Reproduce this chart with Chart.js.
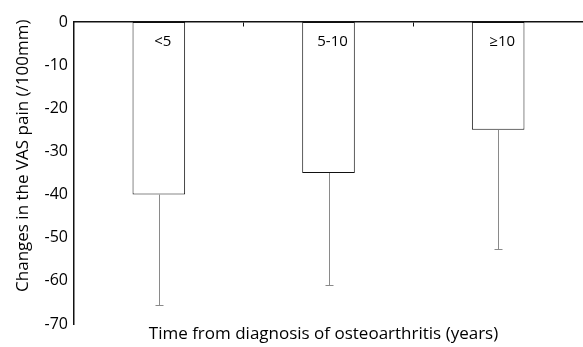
<!DOCTYPE html>
<html>
<head>
<meta charset="utf-8">
<script src="https://cdn.jsdelivr.net/npm/chart.js@4.4.1/dist/chart.umd.min.js"></script>
<style>
  html, body { margin: 0; padding: 0; background: #fff; }
  #wrap { width: 583px; height: 347px; }
</style>
</head>
<body>
<div id="wrap"><canvas id="vasChart"></canvas></div>
<script>
(function () {
    'use strict';

    var categories = ['<5', '5-10', '\u226510'];
    var meanChange = [-40, -35, -25];
    var errorLow = [-65.5, -61, -52.5];
    var yTicks = [0, -10, -20, -30, -40, -50, -60, -70];

    var xTitle = 'Time from diagnosis of osteoarthritis (years)';
    var yTitle = 'Changes in the VAS pain (/100mm)';

    var FONT = '"Open Sans", sans-serif';

    // error whiskers (downward only), labels inside the bars, axis titles
    var barExtras = {
        id: 'barExtras',
        afterDatasetsDraw: function (chart) {
            var ctx = chart.ctx;
            var y = chart.scales.y;
            var area = chart.chartArea;
            var meta = chart.getDatasetMeta(0);
            ctx.save();
            meta.data.forEach(function (bar, i) {
                var x = Math.round(bar.x) + 0.5;
                var yTop = y.getPixelForValue(meanChange[i]);
                var yEnd = Math.round(y.getPixelForValue(errorLow[i])) + 0.5;
                ctx.strokeStyle = '#8a8a8a';
                ctx.lineWidth = 1;
                ctx.beginPath();
                ctx.moveTo(x, yTop);
                ctx.lineTo(x, yEnd);
                ctx.moveTo(x - 4, yEnd);
                ctx.lineTo(x + 4, yEnd);
                ctx.stroke();

                ctx.fillStyle = '#000';
                ctx.font = '15px ' + FONT;
                ctx.textAlign = 'center';
                ctx.textBaseline = 'middle';
                ctx.fillText(categories[i], bar.x + 4, y.getPixelForValue(0) + 20);
            });

            ctx.fillStyle = '#000';
            ctx.font = '17px ' + FONT;
            ctx.textAlign = 'center';
            ctx.textBaseline = 'middle';
            ctx.fillText(xTitle, (area.left + area.right) / 2 - 5, area.bottom + 10);

            ctx.translate(23, y.getPixelForValue(-31));
            ctx.rotate(-Math.PI / 2);
            ctx.fillText(yTitle, 0, 0);
            ctx.restore();
        }
    };

    new Chart(document.getElementById('vasChart'), {
        type: 'bar',
        data: {
            labels: categories,
            datasets: [{
                data: meanChange,
                backgroundColor: '#ffffff',
                borderColor: '#111111',
                borderWidth: 1,
                borderSkipped: false,
                barPercentage: 0.31,
                categoryPercentage: 1
            }]
        },
        options: {
            responsive: true,
            maintainAspectRatio: false,
            animation: false,
            layout: { padding: { top: 22, right: 0, left: 0, bottom: 23 } },
            plugins: {
                legend: { display: false },
                tooltip: { enabled: false }
            },
            scales: {
                x: {
                    position: { y: 0 },
                    ticks: { display: false },
                    grid: {
                        display: true,
                        offset: true,
                        drawOnChartArea: false,
                        drawTicks: true,
                        tickLength: 4,
                        color: '#111'
                    },
                    border: { display: true, color: '#111', width: 1.5 }
                },
                y: {
                    min: -70,
                    max: 0,
                    afterBuildTicks: function (axis) {
                        axis.ticks = yTicks.map(function (v) { return { value: v }; });
                    },
                    afterFit: function (axis) { axis.width = 74; },
                    ticks: {
                        color: '#000',
                        font: { family: FONT, size: 16 },
                        padding: 6
                    },
                    grid: { display: false, drawTicks: false },
                    border: { display: true, color: '#111', width: 1.5 }
                }
            }
        },
        plugins: [barExtras]
    });
})();
</script>
</body>
</html>
